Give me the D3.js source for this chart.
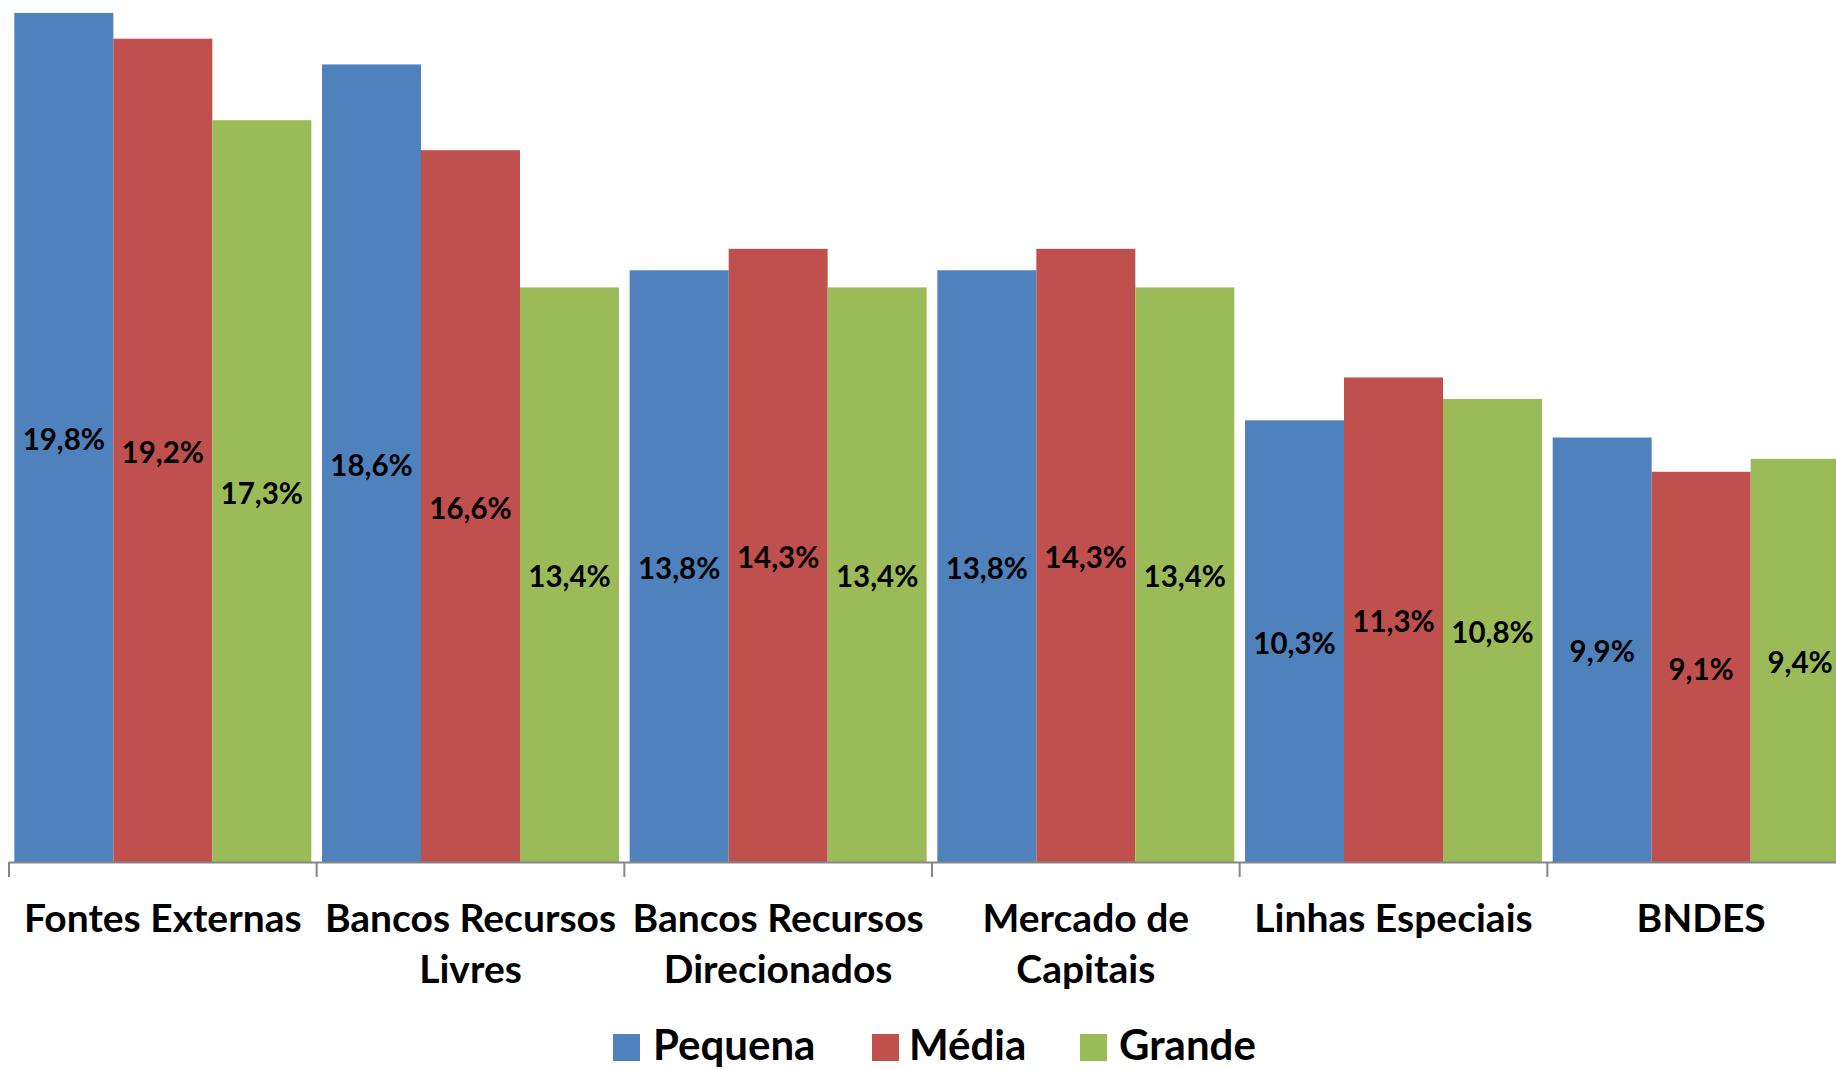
<!DOCTYPE html>
<html>
<head>
<meta charset="utf-8">
<script src="https://cdn.jsdelivr.net/npm/d3@7"></script>
<style>
  html, body { margin: 0; padding: 0; background: #fff; overflow: hidden; }
  svg { display: block; font-family: Lato, "Noto Sans", sans-serif; font-weight: bold; }
</style>
</head>
<body>
<svg id="chart" width="1836" height="1069"></svg>
<script>
const categories = ["Fontes Externas", "Bancos Recursos Livres", "Bancos Recursos Direcionados", "Mercado de Capitais", "Linhas Especiais", "BNDES"];
const categoryLines = [["Fontes Externas"], ["Bancos Recursos", "Livres"], ["Bancos Recursos", "Direcionados"], ["Mercado de", "Capitais"], ["Linhas Especiais"], ["BNDES"]];
const series = ["Pequena", "Média", "Grande"];
const pequena = [19.8, 18.6, 13.8, 13.8, 10.3, 9.9];
const media   = [19.2, 16.6, 14.3, 14.3, 11.3, 9.1];
const grande  = [17.3, 13.4, 13.4, 13.4, 10.8, 9.4];
const colors = ["#4F81BD", "#C0504D", "#9BBB59"];
const valuesBySeries = [pequena, media, grande];

const svg = d3.select("#chart");
const baseY = 862;

const x0 = d3.scaleBand().domain(categories).range([9, 1855]).paddingInner(0).paddingOuter(0);
const x1 = d3.scaleBand().domain(series).range([0, x0.bandwidth()]).paddingInner(0).paddingOuter(0.054);
const y = d3.scaleLinear().domain([0, 20]).range([baseY, 4.4]);
const color = d3.scaleOrdinal().domain(series).range(colors);

const fmt = v => v.toFixed(1).replace(".", ",") + "%";

const data = [];
categories.forEach((c, i) => {
  series.forEach((s, j) => data.push({ cat: c, ser: s, val: valuesBySeries[j][i] }));
});

svg.append("g").selectAll("rect").data(data).join("rect")
  .attr("x", d => x0(d.cat) + x1(d.ser))
  .attr("y", d => y(d.val))
  .attr("width", x1.bandwidth())
  .attr("height", d => baseY - y(d.val))
  .attr("fill", d => color(d.ser));

// value labels centered in bar
svg.append("g").selectAll("text").data(data).join("text")
  .attr("x", d => x0(d.cat) + x1(d.ser) + x1.bandwidth() / 2)
  .attr("y", d => (y(d.val) + baseY) / 2 + 2)
  .attr("dy", "0.36em")
  .attr("text-anchor", "middle")
  .attr("font-size", 29.5)
  .attr("fill", "#000")
  .text(d => fmt(d.val));

// axis line and ticks at category boundaries
const axisG = svg.append("g");
axisG.append("line")
  .attr("x1", x0.range()[0]).attr("x2", x0.range()[1])
  .attr("y1", baseY + 0.5).attr("y2", baseY + 0.5)
  .attr("stroke", "#868686").attr("stroke-width", 2);
const boundaries = categories.map(c => x0(c)).concat([x0.range()[1]]);
axisG.selectAll("line.tick").data(boundaries).join("line")
  .attr("class", "tick")
  .attr("x1", d => d).attr("x2", d => d)
  .attr("y1", baseY).attr("y2", baseY + 15)
  .attr("stroke", "#868686").attr("stroke-width", 2);

// category labels
const catG = svg.append("g");
categories.forEach((c, i) => {
  const cx = x0(c) + x0.bandwidth() / 2;
  const t = catG.append("text")
    .attr("text-anchor", "middle")
    .attr("font-size", 39)
    .attr("fill", "#000");
  categoryLines[i].forEach((ln, k) => {
    t.append("tspan").attr("x", cx).attr("y", 932 + k * 51).text(ln);
  });
});

// legend
const legendItems = [
  { ser: "Pequena", sx: 613, tx: 653 },
  { ser: "Média", sx: 872, tx: 909 },
  { ser: "Grande", sx: 1080, tx: 1119 }
];
const lg = svg.append("g");
legendItems.forEach(it => {
  lg.append("rect").attr("x", it.sx).attr("y", 1034).attr("width", 27).attr("height", 27).attr("fill", color(it.ser));
  lg.append("text").attr("x", it.tx).attr("y", 1060).attr("font-size", 42).attr("fill", "#000").text(it.ser);
});
</script>
</body>
</html>
